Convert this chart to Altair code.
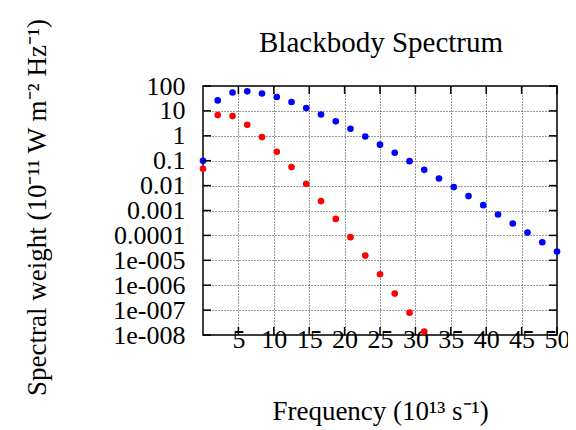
import altair as alt
import pandas as pd

# Frequency (10^13 s^-1)
freq = [0, 2.08, 4.17, 6.25, 8.33, 10.42, 12.5, 14.58, 16.67, 18.75, 20.83, 22.92,
        25, 27.08, 29.17, 31.25, 33.33, 35.42, 37.5, 39.58, 41.67, 43.75, 45.83, 47.92, 50]

# Spectral weight, hotter body (blue)
blue_weight = [0.1, 26.4, 55, 61, 50, 36, 22.7, 13.0, 7.2, 3.8, 1.92, 0.94, 0.44,
               0.209, 0.096, 0.043, 0.0193, 0.0087, 0.0038, 0.00164, 6.9e-4, 3.0e-4,
               1.3e-4, 5.3e-5, 2.24e-5]

# Spectral weight, cooler body (red)
red_weight = [0.047, 6.8, 6.2, 2.78, 0.89, 0.228, 0.0553, 0.0118, 0.00238, 4.6e-4,
              8.5e-5, 1.55e-5, 2.76e-6, 4.6e-7, 7.9e-8, 1.36e-8]

series_names = ["hot", "cool"]
series_colors = ["#0000ff", "#ff0000"]

x_ticks = [5, 10, 15, 20, 25, 30, 35, 40, 45, 50]
y_ticks = [1e-8, 1e-7, 1e-6, 1e-5, 1e-4, 1e-3, 1e-2, 1e-1, 1, 10, 100]

chart_title = ["Blackbody Spectrum"]

W, H = 354, 249
FONT = "Liberation Serif"

rows = []
for f, v in zip(freq, blue_weight):
    rows.append({"freq": f, "weight": v, "series": "hot"})
for f, v in zip(freq, red_weight):
    rows.append({"freq": f, "weight": v, "series": "cool"})
df = pd.DataFrame(rows)

xscale = alt.Scale(domain=[0, 50], nice=False, zero=False)
yscale = alt.Scale(type="log", domain=[1e-8, 100], nice=False)

y_label_expr = ("datum.value < 0.00005 ? '1e-00' + round(-log(datum.value) / LN10)"
                " : format(datum.value, '~g')")

x_axis = alt.Axis(values=x_ticks, title="Frequency (10¹³ s⁻¹)", grid=True,
                  ticks=False, domain=False, labelFontSize=26, labelOverlap=False,
                  labelPadding=12, labelBaseline="alphabetic", labelFlush=False,
                  labelAlign="center", titleFontSize=27, titleFontWeight="normal",
                  titleX=177, titleY=84, titleBaseline="alphabetic",
                  titleAnchor="middle", labelFont=FONT, titleFont=FONT)
y_axis = alt.Axis(values=y_ticks, labelExpr=y_label_expr, grid=True,
                  ticks=False, domain=False, labelFontSize=26, labelOverlap=False,
                  labelPadding=18, labelBaseline="middle", labelFlush=False,
                  title="Spectral weight (10⁻¹¹ W m⁻² Hz⁻¹)",
                  titleFontSize=27, titleFontWeight="normal",
                  titleX=-158, titleY=121, titleBaseline="alphabetic",
                  titleAngle=270, labelFont=FONT, titleFont=FONT)

points = alt.Chart(df).mark_circle(size=44, opacity=1).encode(
    x=alt.X("freq:Q", scale=xscale, axis=x_axis),
    y=alt.Y("weight:Q", scale=yscale, axis=y_axis),
    color=alt.Color("series:N",
                    scale=alt.Scale(domain=series_names, range=series_colors),
                    legend=None),
)

xt = pd.DataFrame({"t": x_ticks})
yt = pd.DataFrame({"t": y_ticks})

tick_style = dict(color="black", strokeWidth=1.5)
bottom_ticks = alt.Chart(xt).mark_rule(**tick_style).encode(
    x=alt.X("t:Q", scale=xscale, axis=x_axis), y=alt.value(H), y2=alt.value(H - 8))
top_ticks = alt.Chart(xt).mark_rule(**tick_style).encode(
    x=alt.X("t:Q", scale=xscale, axis=x_axis), y=alt.value(0), y2=alt.value(8))
left_ticks = alt.Chart(yt).mark_rule(**tick_style).encode(
    y=alt.Y("t:Q", scale=yscale, axis=y_axis), x=alt.value(0), x2=alt.value(8))
right_ticks = alt.Chart(yt).mark_rule(**tick_style).encode(
    y=alt.Y("t:Q", scale=yscale, axis=y_axis), x=alt.value(W - 8), x2=alt.value(W))

title_text = alt.Chart(pd.DataFrame({"t": chart_title})).mark_text(
    font=FONT, fontSize=29, color="black", baseline="alphabetic", align="center"
).encode(text="t:N", x=alt.value(W / 2 + 1), y=alt.value(-34))

chart = alt.layer(points, bottom_ticks, top_ticks, left_ticks, right_ticks,
                  title_text).properties(
    width=W, height=H,
    padding={"left": 195, "top": 78, "right": 11, "bottom": 91},
    autosize="none",
    background="white",
).configure_view(
    stroke="black", strokeWidth=1.5
).configure_axis(
    labelFont=FONT, titleFont=FONT, labelColor="black", titleColor="black",
    gridColor="#333333", gridDash=[1, 2], gridWidth=1, gridOpacity=1,
)

chart.save("out.html", embed_options={"renderer": "svg", "actions": False})
